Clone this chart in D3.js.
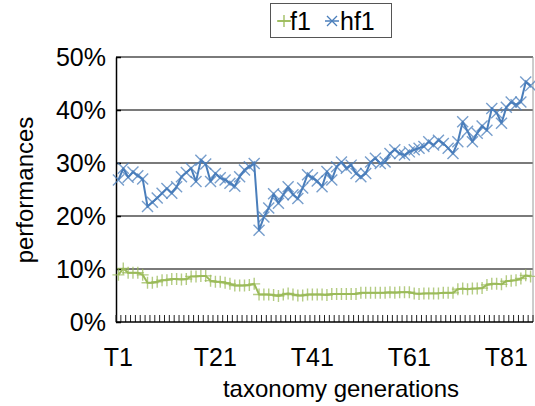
<!DOCTYPE html>
<html>
<head>
<meta charset="utf-8">
<script src="https://cdn.jsdelivr.net/npm/d3@7"></script>
<style>
  html, body { margin: 0; padding: 0; background: #fff; }
  svg { display: block; font-family: "Liberation Sans", Arial, sans-serif; }
</style>
</head>
<body>
<svg id="chart" width="535" height="406"></svg>
<script>
// Taxonomy generations T1..T86
const categories = d3.range(1, 87).map(i => "T" + i);

// f1 performance per generation (%)
const f1Values = [
  8.9, 10.1, 9.3, 9.3, 9.3, 8.9, 7.4, 7.4, 7.6, 7.9,
  7.9, 8.1, 8.1, 8.0, 8.1, 8.6, 8.6, 8.7, 8.7, 7.8,
  7.6, 7.6, 7.4, 7.2, 6.9, 6.9, 6.9, 7.0, 7.2, 5.2,
  5.2, 5.2, 5.1, 4.9, 5.2, 5.4, 5.2, 5.0, 5.0, 5.2,
  5.2, 5.2, 5.2, 5.1, 5.3, 5.3, 5.3, 5.3, 5.3, 5.3,
  5.5, 5.5, 5.5, 5.5, 5.5, 5.5, 5.6, 5.5, 5.6, 5.6,
  5.6, 5.4, 5.3, 5.4, 5.4, 5.4, 5.4, 5.5, 5.5, 5.5,
  6.2, 6.3, 6.2, 6.3, 6.3, 6.4, 7.0, 7.2, 7.2, 7.1,
  7.7, 7.8, 7.9, 8.2, 8.8, 8.6
];

// hf1 performance per generation (%)
const hf1Values = [
  26.8, 29.0, 27.3, 28.3, 27.6, 27.0, 21.8, 22.6, 23.4, 24.3,
  25.2, 24.3, 25.5, 27.4, 28.2, 29.0, 26.5, 30.5, 29.8, 26.5,
  28.0, 27.2, 26.8, 26.2, 25.6, 27.4, 28.7, 29.3, 29.9, 17.3,
  19.8, 21.5, 24.2, 22.4, 24.0, 25.5, 24.0, 23.3, 25.3, 27.8,
  27.2, 26.6, 25.5, 28.4, 26.8, 29.3, 30.2, 29.0, 29.6, 28.0,
  27.4, 28.0, 30.2, 30.9, 29.9, 30.2, 31.8, 32.5, 31.8, 31.5,
  32.1, 32.5, 32.8, 33.1, 34.0, 33.4, 34.3, 33.7, 32.8, 31.8,
  34.0, 37.8, 36.0, 34.0, 35.6, 37.0, 36.2, 40.3, 39.5, 37.5,
  40.5, 41.5, 41.0, 41.5, 45.3, 44.6
];

const yTicks = [0, 10, 20, 30, 40, 50];
const xLabels = ["T1", "T21", "T41", "T61", "T81"];

const seriesList = [
  { name: "f1", values: f1Values, color: "#9BBB59", marker: "plus" },
  { name: "hf1", values: hf1Values, color: "#4A7EBB", marker: "cross" }
];

const svg = d3.select("#chart");
const plot = { left: 116, right: 533, top: 57, bottom: 322 };

const x = d3.scaleBand().domain(categories).range([plot.left, plot.right]).padding(0);
const y = d3.scaleLinear().domain([0, 50]).range([plot.bottom, plot.top]);
const cx = c => x(c) + x.bandwidth() / 2;

// horizontal gridlines
svg.append("g")
  .selectAll("line")
  .data(yTicks.filter(t => t > 0))
  .join("line")
  .attr("x1", plot.left).attr("x2", plot.right)
  .attr("y1", d => y(d)).attr("y2", d => y(d))
  .attr("stroke", "#7a7a7a").attr("stroke-width", 1.8);

// right edge of the plot area
svg.append("line")
  .attr("x1", plot.right).attr("x2", plot.right)
  .attr("y1", plot.top).attr("y2", plot.bottom)
  .attr("stroke", "#9a9a9a").attr("stroke-width", 1);

// y axis (left), ticks pointing inward
const yAxis = d3.axisLeft(y).tickValues(yTicks).tickSizeInner(-5).tickSizeOuter(0).tickFormat(d => d + "%");
const gy = svg.append("g").attr("transform", `translate(${plot.left},0)`).call(yAxis);
gy.select(".domain").attr("stroke", "#000").attr("stroke-width", 1.5);
gy.selectAll(".tick line").attr("stroke", "#000").attr("stroke-width", 1.5);
gy.selectAll(".tick text")
  .attr("x", -10)
  .attr("font-size", 25)
  .attr("font-family", "Liberation Sans, Arial, sans-serif")
  .attr("fill", "#000");

// x axis (bottom): tick marks on category boundaries, pointing up
const bounds = categories.map(c => x(c)).concat([plot.right]);
svg.append("g")
  .selectAll("line")
  .data(bounds)
  .join("line")
  .attr("x1", d => d).attr("x2", d => d)
  .attr("y1", plot.bottom).attr("y2", plot.bottom - 7)
  .attr("stroke", "#222").attr("stroke-width", 1);

svg.append("line")
  .attr("x1", plot.left).attr("x2", plot.right)
  .attr("y1", plot.bottom).attr("y2", plot.bottom)
  .attr("stroke", "#000").attr("stroke-width", 1.5);

svg.append("g")
  .selectAll("text")
  .data(xLabels)
  .join("text")
  .attr("x", d => cx(d))
  .attr("y", 366)
  .attr("text-anchor", "middle")
  .attr("font-size", 25)
  .attr("fill", "#000")
  .text(d => d);

// axis titles
svg.append("text")
  .attr("x", 341).attr("y", 397)
  .attr("text-anchor", "middle")
  .attr("font-size", 24)
  .attr("fill", "#000")
  .text("taxonomy generations");

svg.append("text")
  .attr("transform", "translate(33,190) rotate(-90)")
  .attr("text-anchor", "middle")
  .attr("font-size", 24)
  .attr("fill", "#000")
  .text("performances");

// marker shapes
function markerPath(type, px, py, r) {
  if (type === "plus") {
    return `M${px - r},${py}H${px + r}M${px},${py - r}V${py + r}`;
  }
  return `M${px - r},${py - r}L${px + r},${py + r}M${px - r},${py + r}L${px + r},${py - r}`;
}

// series lines and markers
const line = d3.line().x((d, i) => cx(categories[i])).y(d => y(d));
seriesList.forEach(s => {
  svg.append("path")
    .datum(s.values)
    .attr("d", line)
    .attr("fill", "none")
    .attr("stroke", s.color)
    .attr("stroke-width", 2)
    .attr("stroke-linejoin", "round");

  svg.append("g")
    .selectAll("path")
    .data(s.values)
    .join("path")
    .attr("d", (d, i) => markerPath(s.marker, cx(categories[i]), y(d), s.marker === "plus" ? 6 : 5.5))
    .attr("fill", "none")
    .attr("stroke", s.color)
    .attr("stroke-opacity", 0.75)
    .attr("stroke-width", 1.4);
});

// legend
const legend = svg.append("g");
legend.append("rect")
  .attr("x", 270.5).attr("y", 3.5).attr("width", 121).attr("height", 34)
  .attr("fill", "#fff").attr("stroke", "#555").attr("stroke-width", 1);

const legendItems = [
  { s: seriesList[0], mx: 284, tx: 290 },
  { s: seriesList[1], mx: 332, tx: 340 }
];
legendItems.forEach(it => {
  legend.append("line")
    .attr("x1", it.mx - 7).attr("x2", it.mx + 7)
    .attr("y1", 21).attr("y2", 21)
    .attr("stroke", it.s.color).attr("stroke-width", 1.5);
  legend.append("path")
    .attr("d", markerPath(it.s.marker, it.mx, 21, it.s.marker === "plus" ? 6 : 5))
    .attr("fill", "none")
    .attr("stroke", it.s.color)
    .attr("stroke-width", 1.3);
  legend.append("text")
    .attr("x", it.tx).attr("y", 30)
    .attr("font-size", 25)
    .attr("fill", "#000")
    .text(it.s.name);
});
</script>
</body>
</html>
